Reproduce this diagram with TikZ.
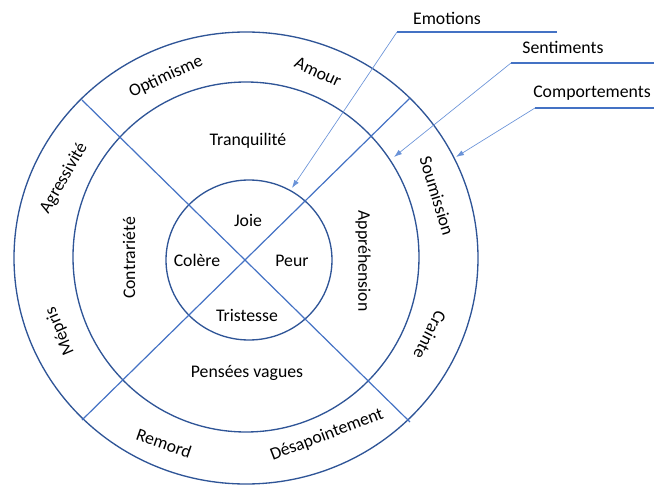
\documentclass[tikz,border=0pt]{standalone}
\usepackage{fontspec}
\setmainfont{Carlito}
\usetikzlibrary{arrows.meta}
\definecolor{ringblue}{HTML}{2F5597}
\definecolor{lineblue}{HTML}{4472C4}
\definecolor{callblue}{HTML}{6A93D8}
\begin{document}
\begin{tikzpicture}[x=0.75pt,y=0.75pt,
        ring/.style={ringblue,line width=1pt},
        cross/.style={lineblue,line width=0.9pt},
        lbl/.style={font=\fontsize{13.3}{15}\selectfont,inner sep=1pt},
        bar/.style={lineblue,line width=1.1pt},
        call/.style={callblue,line width=0.5pt,-{Latex[length=6pt,width=4pt]}}]
    \useasboundingbox (-246,-227) rectangle (408,259);
    % the three rings
    \draw[ring] (0,1) ellipse (232 and 226);
    \draw[ring] (0,2) ellipse (173 and 175);
    \draw[ring] (3,-1) ellipse (83 and 80);
    % the two diameters
    \coordinate (nw) at (-164,159);
    \coordinate (se) at (164,-163);
    \coordinate (ne) at (164,161);
    \coordinate (sw) at (-164,-161);
    \draw[cross] (nw) -- (se);
    \draw[cross] (ne) -- (sw);
    % emotions
    \node[lbl] (joie) at (2,39) {Joie};
    \node[lbl] (colere) at (-49,-1) {Colère};
    \node[lbl] (peur) at (46,-2) {Peur};
    \node[lbl] (tristesse) at (1,-56) {Tristesse};
    % sentiments
    \node[lbl] (tranq) at (2,118) {Tranquilité};
    \node[lbl,rotate=90] (contr) at (-117,1) {Contrariété};
    \node[lbl,rotate=-90] (appreh) at (117,-2) {Appréhension};
    \node[lbl] (pensees) at (1,-114) {Pensées vagues};
    % comportements
    \node[lbl,rotate=25] (optim) at (-80,182) {Optimisme};
    \node[lbl,rotate=-25] (amour) at (72,187) {Amour};
    \node[lbl,rotate=-73] (soum) at (191,63) {Soumission};
    \node[lbl,rotate=-117] (crainte) at (184,-76) {Crainte};
    \node[lbl,rotate=21] (desap) at (81,-176) {Désapointement};
    \node[lbl,rotate=-19] (remord) at (-82,-184) {Remord};
    \node[lbl,rotate=113] (mepris) at (-186,-72) {Mépris};
    \node[lbl,rotate=60] (agress) at (-182,81) {Agressivité};
    % callouts
    \node[lbl] (emo) at (201,241) {Emotions};
    \coordinate (emoA) at (151,227);
    \coordinate (emoB) at (311,227);
    \coordinate (emoT) at (46,71);
    \draw[bar] (emoA) -- (emoB);
    \draw[call] (emoA) -- (emoT);
    \node[lbl] (sent) at (317,212) {Sentiments};
    \coordinate (sentA) at (265,196);
    \coordinate (sentB) at (408,196);
    \coordinate (sentT) at (148,102);
    \draw[bar] (sentA) -- (sentB);
    \draw[call] (sentA) -- (sentT);
    \node[lbl] (comp) at (346,166) {Comportements};
    \coordinate (compA) at (289,151);
    \coordinate (compB) at (408,151);
    \coordinate (compT) at (210,102);
    \draw[bar] (compA) -- (compB);
    \draw[call] (compA) -- (compT);
\end{tikzpicture}
\end{document}
